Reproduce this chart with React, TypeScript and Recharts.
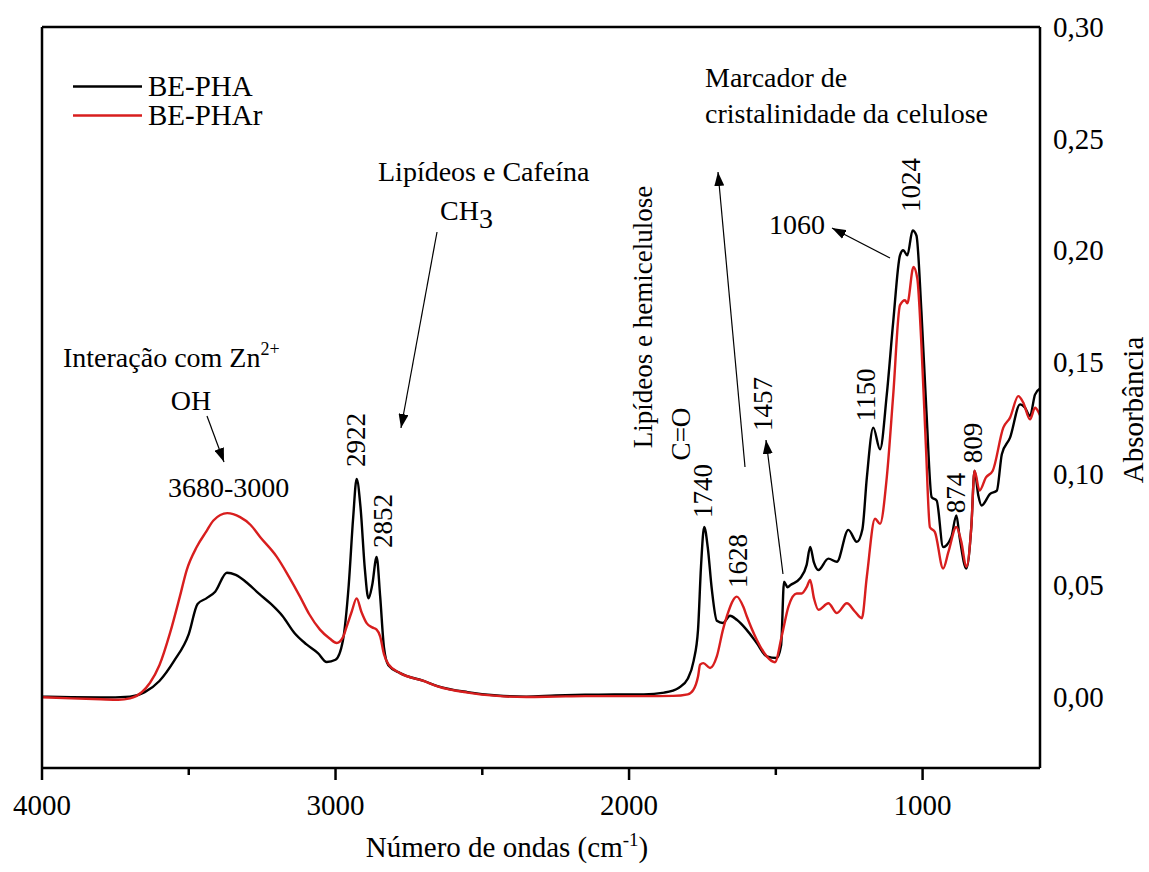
import { LineChart, Line, XAxis, YAxis, Legend } from 'recharts';

// BE-PHA (black)
const phaWavenumbers = [
  4000, 3900, 3800, 3700, 3650, 3600, 3550, 3500, 3470, 3440, 3410, 3370, 3340, 3300, 3260, 3220,
  3180, 3140, 3100, 3060, 3030, 3000, 2975, 2955, 2940, 2928, 2915, 2900, 2888, 2875, 2860, 2848,
  2835, 2820, 2780, 2700, 2650, 2550, 2450, 2350, 2250, 2150, 2050, 1950, 1880, 1830, 1800, 1780,
  1765, 1755, 1744, 1732, 1718, 1701, 1680, 1656, 1633, 1600, 1565, 1531, 1497, 1482, 1472, 1460,
  1450, 1417, 1395, 1383, 1370, 1355, 1321, 1292, 1253, 1224, 1205, 1190, 1168, 1145, 1122, 1100,
  1077, 1066, 1052, 1034, 1021, 1004, 987, 969, 952, 930, 902, 885, 874, 851, 834, 823, 810, 799,
  770, 747, 730, 702, 668, 651, 634, 617, 600,
];
const phaAbsorbance = [
  0.0, -0.0003, -0.0004, 0.0, 0.002, 0.007, 0.016, 0.028, 0.0415, 0.044, 0.047, 0.0555, 0.0545, 0.0508, 0.046, 0.0415,
  0.036, 0.0285, 0.0235, 0.0195, 0.0155, 0.0165, 0.025, 0.05, 0.08, 0.0975, 0.085, 0.057, 0.044, 0.05, 0.0626, 0.045,
  0.022, 0.014, 0.0105, 0.007, 0.0046, 0.002, 0.0005, 0.0, 0.0005, 0.0008, 0.001, 0.001, 0.0018, 0.004, 0.008, 0.016,
  0.03, 0.058, 0.076, 0.067, 0.048, 0.034, 0.033, 0.0362, 0.0344, 0.03, 0.024, 0.018, 0.0173, 0.023, 0.0515, 0.049,
  0.05, 0.053, 0.059, 0.067, 0.06, 0.0567, 0.0618, 0.0604, 0.0747, 0.0693, 0.075, 0.098, 0.1205, 0.1108, 0.1353, 0.168,
  0.1977, 0.2, 0.1977, 0.2088, 0.2066, 0.1725, 0.128, 0.0893, 0.0878, 0.067, 0.0715, 0.0812, 0.0715, 0.0574, 0.076, 0.1012, 0.09, 0.0856,
  0.0908, 0.0923, 0.1086, 0.116, 0.1309, 0.1294, 0.1257, 0.1353, 0.138,
];

// BE-PHAr (red)
const pharWavenumbers = [
  4000, 3900, 3800, 3740, 3700, 3660, 3632, 3600, 3564, 3530, 3507, 3473, 3440, 3416, 3369, 3325,
  3290, 3257, 3200, 3160, 3121, 3090, 3053, 3020, 2996, 2975, 2962, 2945, 2928, 2912, 2894, 2875,
  2860, 2848, 2835, 2820, 2780, 2700, 2650, 2550, 2450, 2350, 2250, 2150, 2050, 1950, 1850, 1800,
  1781, 1765, 1758, 1747, 1724, 1701, 1680, 1667, 1633, 1610, 1599, 1565, 1531, 1503, 1480, 1457,
  1429, 1412, 1395, 1383, 1370, 1355, 1321, 1292, 1258, 1230, 1207, 1190, 1162, 1145, 1122, 1100,
  1077, 1060, 1052, 1031, 1018, 1004, 989, 975, 958, 930, 912, 885, 868, 851, 834, 823, 806, 784,
  761, 725, 702, 674, 657, 634, 617, 600,
];
const pharAbsorbance = [
  -0.0003, -0.0008, -0.0012, -0.0014, -0.0008, 0.002, 0.0062, 0.014, 0.0284, 0.045, 0.0567, 0.067, 0.074, 0.0789, 0.0822, 0.0804,
  0.077, 0.0715, 0.0626, 0.054, 0.0448, 0.037, 0.03, 0.026, 0.024, 0.0265, 0.0314, 0.038, 0.044, 0.038, 0.0329, 0.031,
  0.03, 0.027, 0.019, 0.0145, 0.0105, 0.007, 0.0045, 0.0018, 0.0003, -0.0002, 0.0, 0.0002, 0.0002, 0.0002, 0.0003, 0.001,
  0.003, 0.009, 0.0143, 0.015, 0.0128, 0.018, 0.03, 0.0359, 0.0448, 0.04, 0.036, 0.0255, 0.018, 0.0154, 0.027, 0.0403,
  0.0462, 0.0462, 0.049, 0.0522, 0.044, 0.0389, 0.0418, 0.0374, 0.0418, 0.038, 0.0351, 0.0537, 0.0797, 0.0774, 0.0982, 0.1353,
  0.1754, 0.1776, 0.1762, 0.1925, 0.1873, 0.1576, 0.113, 0.0759, 0.0737, 0.0574, 0.0648, 0.076, 0.0693, 0.0581, 0.076, 0.1012, 0.0923, 0.0982,
  0.1012, 0.1205, 0.125, 0.1346, 0.1317, 0.1242, 0.1294, 0.126,
];

const xTicks = [4000, 3500, 3000, 2500, 2000, 1500, 1000];
const xTickLabels = ['4000', '', '3000', '', '2000', '', '1000'];
const yTicks = [0, 0.05, 0.1, 0.15, 0.2, 0.25, 0.3];

const FONT = '"Liberation Serif", "Times New Roman", serif';
const RED = '#d81e1e';
const txt = { fontFamily: FONT };

const toPoints = (wn: number[], ab: number[]) => wn.map((w, i) => ({ wn: w, abs: ab[i] }));

const XTick = ({ x, y, payload }: any) => {
  const label = xTickLabels[xTicks.indexOf(payload.value)];
  const major = label !== '';
  return (
    <g>
      <line x1={x} x2={x} y1={y} y2={y + (major ? 12 : 7)} stroke="#000" strokeWidth={2.5} />
      {major && (
        <text x={x} y={y + 47} textAnchor="middle" style={txt} fontSize={29} fill="#000">
          {label}
        </text>
      )}
    </g>
  );
};

const XTitle = ({ viewBox }: any) => {
  const cx = viewBox.x + viewBox.width / 2 - 34;
  return (
    <text x={cx} y={857} textAnchor="middle" style={txt} fontSize={29} fill="#000">
      Número de ondas (cm<tspan fontSize={19} dy={-11}>-1</tspan><tspan dy={11}>)</tspan>
    </text>
  );
};

const YTitle = () => (
  <text x={1143} y={410} textAnchor="middle" transform="rotate(-90 1143 410)" style={txt} fontSize={29} fill="#000">
    Absorbância
  </text>
);

const renderLegend = ({ payload }: any) => (
  <div style={{ fontFamily: FONT, fontSize: 29, lineHeight: '29px' }}>
    {(payload || []).map((p: any) => (
      <div key={p.value} style={{ display: 'flex', alignItems: 'center', height: 29 }}>
        <svg width={70} height={29}>
          <line x1={0} x2={69} y1={14.5} y2={14.5} stroke={p.color} strokeWidth={2.5} />
        </svg>
        <span style={{ marginLeft: 5, color: '#000' }}>{p.value}</span>
      </div>
    ))}
  </div>
);

// rotated peak labels: [text, baseline x, center y]
const rotatedNotes: [string, number, number][] = [
  ['2922', 365, 440],
  ['2852', 392, 521],
  ['Lipídeos e hemicelulose', 652, 317],
  ['C=O', 690, 434],
  ['1740', 712, 491],
  ['1628', 747, 561],
  ['1457', 772, 404],
  ['1150', 875, 395],
  ['1024', 920, 185],
  ['874', 965, 493],
  ['809', 982, 443],
];

const arrows: [number, number, number, number][] = [
  [207, 416, 224, 462],
  [437, 232, 401, 428],
  [783, 574, 766, 440],
  [745, 467, 718, 172],
  [890, 258, 832, 228],
];

const Annotations = () => (
  <svg width={1149} height={872} style={{ position: 'absolute', left: 0, top: 0, pointerEvents: 'none' }}>
    <defs>
      <marker id="ah" markerWidth={14} markerHeight={10} refX={14} refY={5} orient="auto" markerUnits="userSpaceOnUse">
        <path d="M0,0 L14,5 L0,10 z" fill="#000" />
      </marker>
    </defs>
    <g style={txt} fontSize={28} fill="#000">
      <text x={63} y={367}>
        Interação com Zn<tspan fontSize={18} dy={-12}>2+</tspan>
      </text>
      <text x={191} y={410} textAnchor="middle">OH</text>
      <text x={168} y={497}>3680-3000</text>
      <text x={378} y={181}>Lipídeos e Cafeína</text>
      <text x={440} y={220}>
        CH<tspan dy={8}>3</tspan>
      </text>
      <text x={705} y={87}>Marcador de</text>
      <text x={705} y={123}>cristalinidade da celulose</text>
      <text x={769} y={234}>1060</text>
    </g>
    <g style={txt} fontSize={27} fill="#000">
      {rotatedNotes.map(([t, x, y]) => (
        <text key={t} x={x} y={y} textAnchor="middle" transform={`rotate(-90 ${x} ${y})`}>
          {t}
        </text>
      ))}
    </g>
    {arrows.map(([x1, y1, x2, y2], i) => (
      <line key={i} x1={x1} y1={y1} x2={x2} y2={y2} stroke="#000" strokeWidth={1.2} markerEnd="url(#ah)" />
    ))}
  </svg>
);

export default function App() {
  const phaData = toPoints(phaWavenumbers, phaAbsorbance);
  const pharData = toPoints(pharWavenumbers, pharAbsorbance);
  const frame = { stroke: '#000', strokeWidth: 2.5 };

  return (
    <div style={{ position: 'absolute', left: 0, top: 0, width: 1149, height: 872, background: '#fff' }}>
      <LineChart width={1149} height={872} margin={{ top: 26, right: 0, left: 41, bottom: 0 }}>
        <XAxis
          xAxisId="bottom"
          dataKey="wn"
          type="number"
          domain={[600, 4000]}
          reversed
          allowDataOverflow
          ticks={xTicks}
          interval={0}
          height={104}
          tickSize={0}
          tickMargin={0}
          tickLine={false}
          axisLine={frame}
          tick={<XTick />}
          label={<XTitle />}
        />
        <XAxis xAxisId="top" orientation="top" dataKey="wn" type="number" domain={[600, 4000]} reversed allowDataOverflow height={1} ticks={[4000]} tick={false} tickLine={false} axisLine={frame} />
        <YAxis
          yAxisId="right"
          orientation="right"
          type="number"
          domain={[-0.032, 0.3]}
          allowDataOverflow
          ticks={yTicks}
          interval={0}
          width={109}
          tickSize={0}
          tickMargin={13}
          tickLine={false}
          axisLine={frame}
          tickFormatter={(v: number) => v.toFixed(2).replace('.', ',')}
          tick={{ fontFamily: FONT, fontSize: 29, fill: '#000' }}
          label={<YTitle />}
        />
        <YAxis yAxisId="left" orientation="left" type="number" domain={[-0.032, 0.3]} allowDataOverflow width={1} ticks={[0]} tick={false} tickLine={false} axisLine={frame} />
        <Legend
          layout="horizontal"
          verticalAlign="middle"
          align="center"
          wrapperStyle={{ position: 'absolute', left: 73, top: 72, width: 200, height: 60 }}
          content={renderLegend}
        />
        <Line xAxisId="bottom" yAxisId="right" data={phaData} dataKey="abs" name="BE-PHA" type="monotone" stroke="#000" strokeWidth={2.4} dot={false} isAnimationActive={false} />
        <Line xAxisId="bottom" yAxisId="right" data={pharData} dataKey="abs" name="BE-PHAr" type="monotone" stroke={RED} strokeWidth={2.4} dot={false} isAnimationActive={false} />
      </LineChart>
      <Annotations />
    </div>
  );
}
